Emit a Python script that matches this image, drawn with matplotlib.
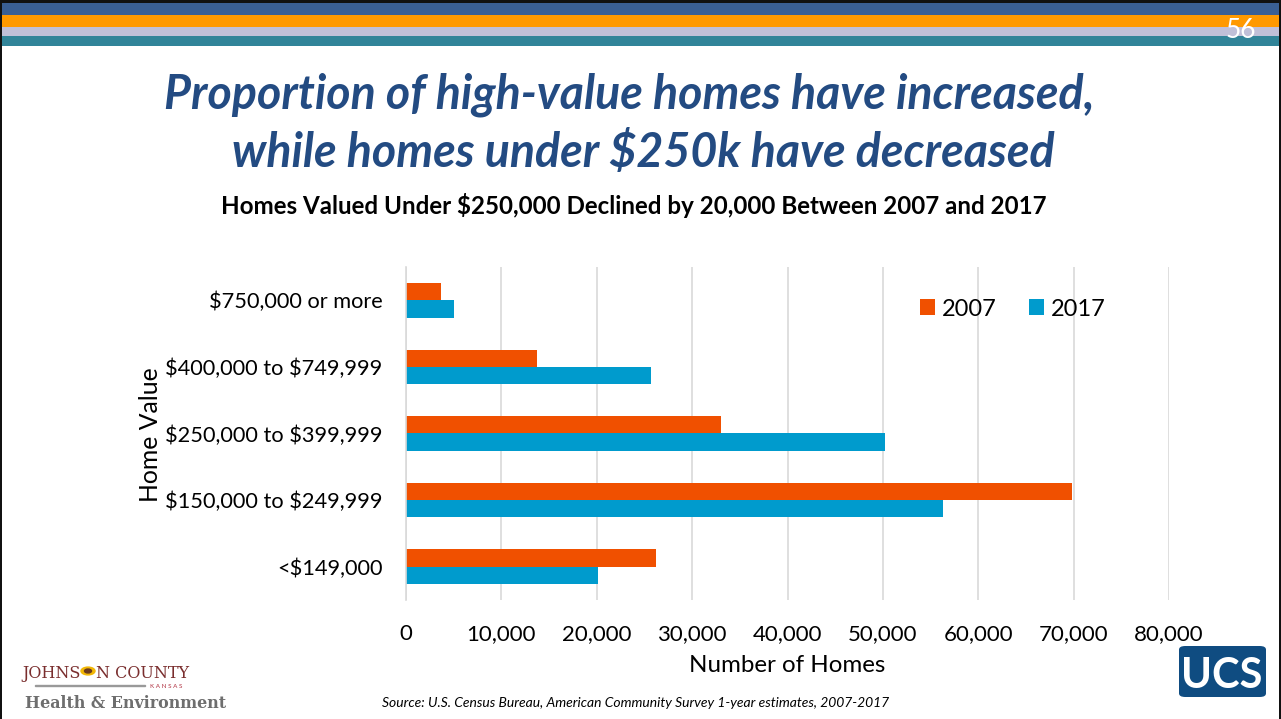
import matplotlib
matplotlib.use("Agg")
import matplotlib.pyplot as plt
from matplotlib.patches import Rectangle, FancyBboxPatch, Circle
import numpy as np

# data (number of homes)
categories = ["<$149,000", "$150,000 to $249,999", "$250,000 to $399,999",
              "$400,000 to $749,999", "$750,000 or more"]
homes_2007 = [26200, 69800, 33000, 13700, 3700]
homes_2017 = [20100, 56300, 50200, 25700, 5000]
x_ticks = [0, 10000, 20000, 30000, 40000, 50000, 60000, 70000, 80000]

ORANGE = "#F05000"
BLUE = "#009BCD"
TITLE_BLUE = "#234B82"
FONT = "Lato"

plt.rcParams["font.family"] = [FONT, "DejaVu Sans"]
plt.rcParams["text.parse_math"] = False

fig = plt.figure(figsize=(12.81, 7.19), dpi=100)
W, H = 1281, 719


def fx(px):
    return px / W


def fy(py):
    return 1 - py / H


# header bands
bands = [(0, 3, "#111111"), (3, 15, "#3A5F94"), (15, 27, "#FF9900"),
         (27, 36, "#C0C0D8"), (36, 46, "#318499")]
for top, bot, col in bands:
    fig.add_artist(Rectangle((0, fy(bot)), 1, (bot - top) / H, transform=fig.transFigure,
                             color=col, lw=0, zorder=0))
fig.add_artist(Rectangle((0, 0), fx(2), 1, transform=fig.transFigure, color="#111111", lw=0))
fig.add_artist(Rectangle((fx(1279), 0), fx(2), 1, transform=fig.transFigure, color="#111111", lw=0))
fig.text(fx(1241), fy(30), "56", color="white", fontsize=19, ha="center", va="center")

# titles
fig.text(fx(629), fy(95), "Proportion of high-value homes have increased,", ha="center", va="center",
         fontsize=33.5, fontweight="bold", fontstyle="italic", color=TITLE_BLUE)
fig.text(fx(643), fy(152), "while homes under $250k have decreased", ha="center", va="center",
         fontsize=33.5, fontweight="bold", fontstyle="italic", color=TITLE_BLUE)
fig.text(fx(634), fy(206), "Homes Valued Under $250,000 Declined by 20,000 Between 2007 and 2017",
         ha="center", va="center", fontsize=17.4, fontweight="bold", color="black")

# chart
ax = fig.add_axes([fx(406), fy(600), fx(1169 - 406), (600 - 267) / H])
y = np.arange(len(categories))
bh = 0.26
ax.barh(y + bh / 2, homes_2007, height=bh, color=ORANGE, label="2007", zorder=3)
ax.barh(y - bh / 2, homes_2017, height=bh, color=BLUE, label="2017", zorder=3)
ax.set_xlim(0, 80000)
ax.set_ylim(-0.5, len(categories) - 0.5)
ax.set_xticks(x_ticks)
ax.set_xticklabels([f"{v:,}" for v in x_ticks], fontsize=16)
ax.set_yticks(y)
ax.set_yticklabels(categories, fontsize=15.7)
ax.tick_params(length=0, pad=17, axis="y")
ax.tick_params(length=0, pad=17, axis="x")
ax.grid(axis="x", color="#D9D9D9", lw=1.2, zorder=0)
for s in ["top", "right", "bottom"]:
    ax.spines[s].set_visible(False)
ax.spines["left"].set_color("#D9D9D9")
ax.spines["left"].set_linewidth(1.2)
ax.spines["left"].set_zorder(4)

fig.text(fx(787), fy(665), "Number of Homes", ha="center", va="center", fontsize=17.4)
fig.text(fx(150), fy(435), "Home Value", ha="center", va="center", fontsize=17.8, rotation=90)

ax.legend(loc="center", bbox_to_anchor=(fx(1013), fy(309)), bbox_transform=fig.transFigure,
          ncol=2, frameon=False, fontsize=17, handlelength=0.65, handleheight=0.65,
          handletextpad=0.3, columnspacing=1.35)

fig.text(fx(636), fy(703), "Source: U.S. Census Bureau, American Community Survey 1-year estimates, 2007-2017",
         ha="center", va="center", fontsize=10, fontstyle="italic")

# Johnson County logo (text)
jc = "#7A2E2E"
fig.text(fx(22), fy(673), "JOHNS", ha="left", va="center", fontsize=11.5, color=jc, family="DejaVu Serif")
fig.add_artist(Circle((fx(88), fy(671)), 7 / W, transform=fig.transFigure, color="#F2B705", zorder=5))
fig.add_artist(Circle((fx(88), fy(671)), 3.5 / W, transform=fig.transFigure, color="#6B3A1E", zorder=6))
fig.text(fx(96), fy(673), "N COUNTY", ha="left", va="center", fontsize=11.5, color=jc, family="DejaVu Serif")
fig.add_artist(Rectangle((fx(35), fy(686)), fx(110), 1 / H, transform=fig.transFigure, color="#999999"))
fig.text(fx(166), fy(686), "K A N S A S", ha="center", va="center", fontsize=4.5, color="#B03040")
fig.text(fx(25), fy(704), "Health & Environment", ha="left", va="center", fontsize=11.4,
         color="#6E6E6E", family="DejaVu Serif", fontweight="bold")

# UCS logo
fig.add_artist(FancyBboxPatch((fx(1179), fy(697)), fx(87), (697 - 646) / H, transform=fig.transFigure,
                              boxstyle="round,pad=0,rounding_size=0.005", color="#0F4C81", lw=0))
fig.text(fx(1222), fy(676), "UCS", ha="center", va="center", fontsize=30, color="white",
         fontweight="bold")

fig.savefig("out.png", dpi=100)
